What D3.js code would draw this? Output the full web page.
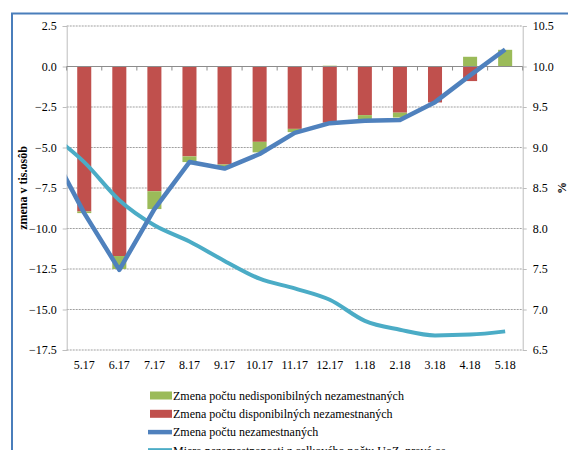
<!DOCTYPE html>
<html>
<head>
<meta charset="utf-8">
<script src="https://cdn.jsdelivr.net/npm/d3@7"></script>
<style>
  body { margin: 0; background: #fff; }
  text { font-family: "Liberation Serif", "Times New Roman", "DejaVu Serif", serif; fill: #000; }
</style>
</head>
<body>
<div id="chart"></div>
<script>
var width = 568;
var height = 450;

// months on the category axis
var months = ["5.17", "6.17", "7.17", "8.17", "9.17", "10.17", "11.17",
              "12.17", "1.18", "2.18", "3.18", "4.18", "5.18"];
// change of non-available unemployed (thousands)
var nedisp = [-0.1, -0.8, -1.1, -0.35, -0.12, -0.65, -0.2, 0.05, -0.27, -0.3, 0, 0.6, 1.03];
// change of available unemployed (thousands)
var disp = [-8.95, -11.7, -7.7, -5.55, -6.05, -4.65, -3.85, -3.47, -3.0, -2.85, -2.22, -0.9, 0];
// change of all unemployed (thousands)
var total = [-9.05, -12.55, -8.8, -5.9, -6.3, -5.4, -4.1, -3.5, -3.35, -3.3, -2.2, -0.55, 1.05];
// unemployment rate from total UoZ (%), right axis
var rate = [8.82, 8.35, 8.04, 7.84, 7.6, 7.38, 7.26, 7.12, 6.86, 6.75, 6.68, 6.69, 6.73];
// month before the first category (line runs in from the left edge)
var prevTotal = -4.95;
var prevRate = 9.18;

var leftTicks = [-17.5, -15, -12.5, -10, -7.5, -5, -2.5, 0, 2.5];
var rightTicks = [6.5, 7, 7.5, 8, 8.5, 9, 9.5, 10, 10.5];

var legendItems = [
  { label: "Zmena počtu nedisponibilných nezamestnaných", color: "#9bbb59", type: "rect" },
  { label: "Zmena počtu disponibilných nezamestnaných", color: "#c0504d", type: "rect" },
  { label: "Zmena počtu nezamestnaných", color: "#4f81bd", type: "line" },
  { label: "Miera nezamestnanosti z celkového počtu UoZ, pravá os", color: "#4bacc6", type: "line" }
];

var plot = { left: 66.7, right: 522.7, top: 26, bottom: 350 };

function createSVG() {
  return d3.select("#chart")
    .append("svg")
    .attr("width", width)
    .attr("height", height);
}

function drawChart(svg) {
  var x = d3.scaleBand()
    .domain(months)
    .range([plot.left, plot.right])
    .paddingInner(0.6)
    .paddingOuter(0.3);
  // index scale for lines: category i sits at i + 0.5
  var xi = d3.scaleLinear()
    .domain([0, months.length])
    .range([plot.left, plot.right]);
  var y = d3.scaleLinear().domain([-17.5, 2.5]).range([plot.bottom, plot.top]);
  var y2 = d3.scaleLinear().domain([6.5, 10.5]).range([plot.bottom, plot.top]);

  // outer frame
  svg.append("rect")
    .attr("x", 12).attr("y", 13.5)
    .attr("width", 620).attr("height", 520)
    .attr("fill", "none")
    .attr("stroke", "#4a7ebb")
    .attr("stroke-width", 2);

  // gridlines
  svg.append("g")
    .selectAll("line")
    .data(leftTicks.filter(function(d) { return d !== 0; }))
    .enter()
    .append("line")
    .attr("x1", plot.left).attr("x2", plot.right)
    .attr("y1", function(d) { return y(d); })
    .attr("y2", function(d) { return y(d); })
    .attr("stroke", "#9f9f9f")
    .attr("stroke-dasharray", "2,1");

  // left axis
  var left = svg.append("g").attr("transform", "translate(" + plot.left + ",0)")
    .call(d3.axisLeft(y).tickValues(leftTicks).tickSize(4).tickPadding(6)
      .tickFormat(d3.format(".1f")));
  left.select(".domain").attr("stroke", "#bdbdbd");
  left.selectAll(".tick line").attr("stroke", "#bdbdbd");
  left.selectAll(".tick text").style("font-size", "12px").attr("fill", "#000");
  left.attr("font-family", null);

  // right axis
  var right = svg.append("g").attr("transform", "translate(" + plot.right + ",0)")
    .call(d3.axisRight(y2).tickValues(rightTicks).tickSize(4).tickPadding(6)
      .tickFormat(d3.format(".1f")));
  right.select(".domain").attr("stroke", "#bdbdbd");
  right.selectAll(".tick line").attr("stroke", "#bdbdbd");
  right.selectAll(".tick text").style("font-size", "12px").attr("fill", "#000");
  right.attr("font-family", null);

  // stacked bars
  var rows = months.map(function(m, i) {
    return { month: m, disp: disp[i], nedisp: nedisp[i] };
  });
  var series = d3.stack()
    .keys(["disp", "nedisp"])
    .offset(d3.stackOffsetDiverging)(rows);
  var colors = { disp: "#c0504d", nedisp: "#9bbb59" };

  svg.append("g")
    .selectAll("g")
    .data(series)
    .enter()
    .append("g")
    .attr("fill", function(s) { return colors[s.key]; })
    .selectAll("rect")
    .data(function(s) { return s; })
    .enter()
    .append("rect")
    .attr("x", function(d) { return x(d.data.month); })
    .attr("width", x.bandwidth())
    .attr("y", function(d) { return y(Math.max(d[0], d[1])); })
    .attr("height", function(d) { return Math.abs(y(d[0]) - y(d[1])); });

  // category axis at zero
  svg.append("line")
    .attr("x1", plot.left).attr("x2", plot.right)
    .attr("y1", y(0)).attr("y2", y(0))
    .attr("stroke", "#8c8c8c");
  svg.append("g")
    .selectAll("line")
    .data(d3.range(months.length + 1))
    .enter()
    .append("line")
    .attr("x1", function(d) { return xi(d); })
    .attr("x2", function(d) { return xi(d); })
    .attr("y1", y(0)).attr("y2", y(0) + 4)
    .attr("stroke", "#8c8c8c");

  svg.append("g")
    .selectAll("text")
    .data(months)
    .enter()
    .append("text")
    .attr("x", function(d, i) { return xi(i + 0.5); })
    .attr("y", plot.bottom + 19)
    .attr("text-anchor", "middle")
    .style("font-size", "12px")
    .text(function(d) { return d; });

  // lines, clipped to the plot area
  svg.append("clipPath").attr("id", "plotclip")
    .append("rect")
    .attr("x", plot.left).attr("y", 0)
    .attr("width", plot.right - plot.left).attr("height", height);

  var totalPts = [[-0.5, prevTotal]].concat(total.map(function(v, i) { return [i + 0.5, v]; }));
  var ratePts = [[-0.5, prevRate]].concat(rate.map(function(v, i) { return [i + 0.5, v]; }));

  var lines = svg.append("g").attr("clip-path", "url(#plotclip)");
  lines.append("path")
    .datum(ratePts)
    .attr("fill", "none")
    .attr("stroke", "#4bacc6")
    .attr("stroke-width", 4)
    .attr("stroke-linejoin", "round")
    .attr("d", d3.line()
      .x(function(d) { return xi(d[0]); })
      .y(function(d) { return y2(d[1]); })
      .curve(d3.curveMonotoneX));
  lines.append("path")
    .datum(totalPts)
    .attr("fill", "none")
    .attr("stroke", "#4f81bd")
    .attr("stroke-width", 4.5)
    .attr("stroke-linejoin", "round")
    .attr("d", d3.line()
      .x(function(d) { return xi(d[0]); })
      .y(function(d) { return y(d[1]); }));

  // axis titles
  svg.append("text")
    .attr("transform", "translate(27," + ((plot.top + plot.bottom) / 2) + ") rotate(-90)")
    .attr("text-anchor", "middle")
    .style("font-size", "12px")
    .style("font-weight", "bold")
    .text("zmena v tis.osôb");
  svg.append("text")
    .attr("transform", "translate(566," + ((plot.top + plot.bottom) / 2) + ") rotate(-90)")
    .attr("text-anchor", "middle")
    .style("font-size", "12px")
    .style("font-weight", "bold")
    .text("%");

  // legend
  var legend = svg.append("g")
    .selectAll("g")
    .data(legendItems)
    .enter()
    .append("g")
    .attr("transform", function(d, i) { return "translate(0," + (395.5 + i * 18.3) + ")"; });
  legend.filter(function(d) { return d.type === "rect"; })
    .append("rect")
    .attr("x", 150).attr("y", -4)
    .attr("width", 22).attr("height", 8)
    .attr("fill", function(d) { return d.color; });
  legend.filter(function(d) { return d.type === "line"; })
    .append("line")
    .attr("x1", 148).attr("x2", 172)
    .attr("stroke", function(d) { return d.color; })
    .attr("stroke-width", 4.5);
  legend.append("text")
    .attr("x", 173)
    .attr("dy", "0.35em")
    .style("font-size", "12px")
    .text(function(d) { return d.label; });
}

window.onload = function() {
  var svg = createSVG();
  drawChart(svg);
};
</script>
</body>
</html>
